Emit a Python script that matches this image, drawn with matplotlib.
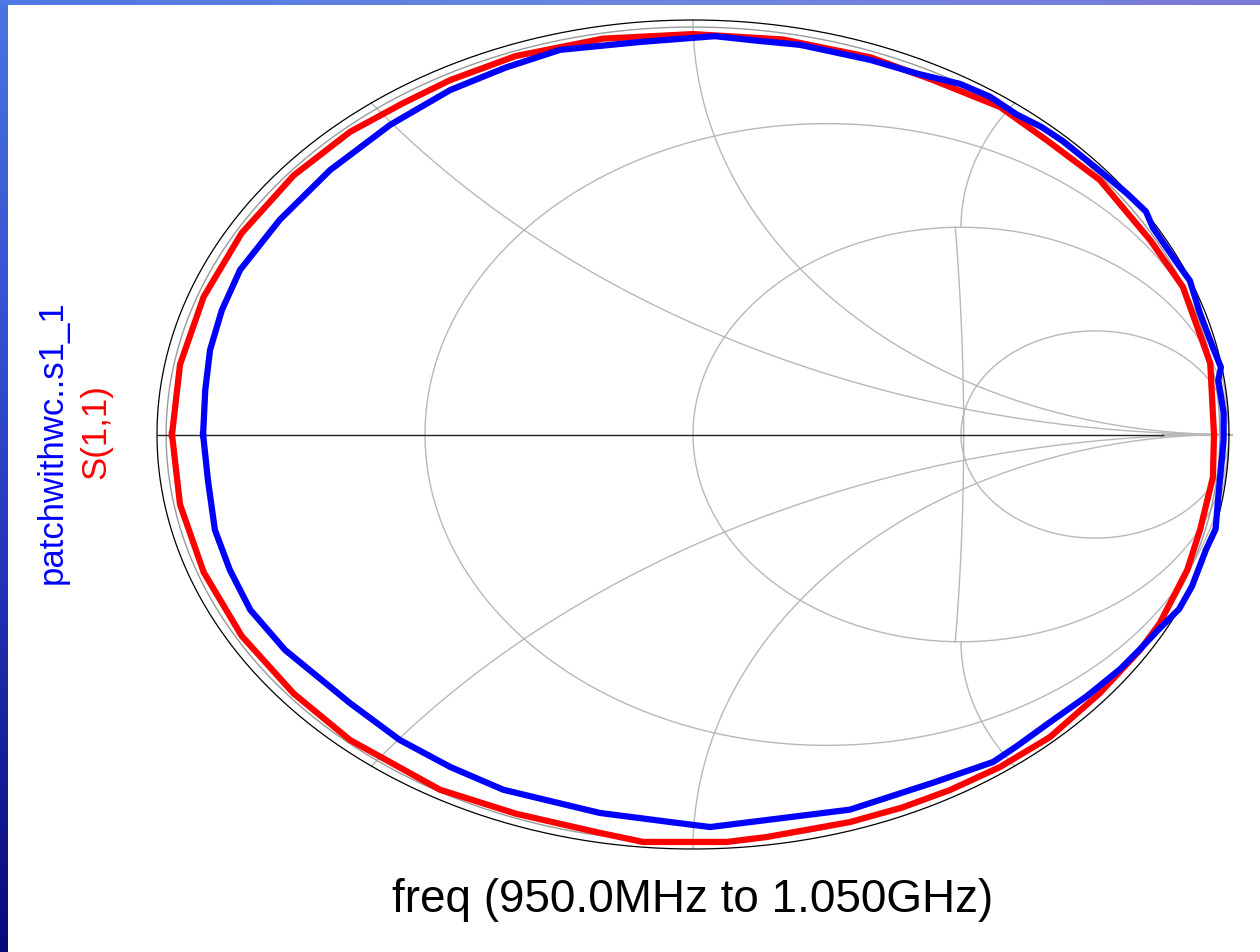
import numpy as np
import matplotlib
matplotlib.use("Agg")
import matplotlib.pyplot as plt

# S(1,1) simulated (red), reflection coefficient
red_re = [-0.972, -0.957, -0.913, -0.842, -0.745, -0.640, -0.540, -0.453, -0.331,
          -0.168, 0.000, 0.168, 0.331, 0.448, 0.573, 0.660, 0.759, 0.853, 0.914,
          0.965, 0.972, 0.970, 0.946, 0.922, 0.871, 0.834, 0.759, 0.666, 0.573,
          0.479, 0.390, 0.293, 0.138, 0.063, -0.093, -0.174, -0.330, -0.472,
          -0.640, -0.745, -0.842, -0.913, -0.957, -0.972]
red_im = [0.000, 0.169, 0.332, 0.486, 0.625, 0.730, 0.800, 0.855, 0.913,
          0.955, 0.966, 0.953, 0.910, 0.855, 0.790, 0.710, 0.614, 0.469, 0.356,
          0.172, 0.000, -0.103, -0.230, -0.327, -0.455, -0.520, -0.624, -0.730, -0.802,
          -0.858, -0.900, -0.935, -0.971, -0.983, -0.983, -0.961, -0.915, -0.857,
          -0.737, -0.625, -0.486, -0.332, -0.169, 0.000]

# patchwithwc..s1_1 measured (blue)
blue_re = [-0.914, -0.910, -0.901, -0.879, -0.845, -0.771, -0.677, -0.565, -0.453,
           -0.350, -0.248, -0.099, 0.041, 0.120, 0.200, 0.330, 0.420, 0.498, 0.554,
           0.604, 0.650, 0.690, 0.759, 0.810, 0.845, 0.858, 0.903, 0.927, 0.946,
           0.970, 0.985, 0.980, 0.990, 0.990, 0.986, 0.980, 0.975, 0.957, 0.931,
           0.907, 0.869, 0.834, 0.797, 0.735, 0.666, 0.604, 0.560, 0.448, 0.293,
           0.138, 0.032, -0.030, -0.174, -0.354, -0.453, -0.547, -0.640, -0.761,
           -0.826, -0.864, -0.892, -0.905, -0.914]
blue_im = [0.000, 0.107, 0.204, 0.300, 0.397, 0.518, 0.638, 0.747, 0.831,
           0.885, 0.928, 0.947, 0.961, 0.950, 0.940, 0.904, 0.870, 0.846, 0.815,
           0.772, 0.742, 0.708, 0.636, 0.581, 0.538, 0.499, 0.414, 0.371, 0.292,
           0.210, 0.162, 0.131, 0.052, -0.013, -0.069, -0.151, -0.228, -0.278, -0.366,
           -0.421, -0.470, -0.518, -0.566, -0.631, -0.694, -0.752, -0.790, -0.840, -0.905,
           -0.930, -0.947, -0.937, -0.913, -0.857, -0.802, -0.737, -0.648, -0.520,
           -0.423, -0.327, -0.230, -0.110, 0.000]

r_circles = [1 / 3, 1, 3]
x_arcs_full = [0.5, -0.5, 1, -1]
x_arcs_short = [2, -2]

grid_col = "#b8b8b8"

fig = plt.figure(figsize=(12.6, 9.52), dpi=100, facecolor="white")

# slide background strips
grad = np.linspace(0, 1, 256).reshape(-1, 1)
left = fig.add_axes([0, 0, 8 / 1260, 1])
left.imshow(grad, aspect="auto", cmap=matplotlib.colors.LinearSegmentedColormap.from_list(
    "l", ["#4a74e2", "#2a3fc8", "#08087a"]))
left.axis("off")
top = fig.add_axes([0, 1 - 5 / 952, 1, 5 / 952])
top.imshow(grad.T, aspect="auto", cmap=matplotlib.colors.LinearSegmentedColormap.from_list(
    "t", ["#4d78e2", "#6b86e0", "#7c7ad8"]))
top.axis("off")

ax = fig.add_axes([157 / 1260, (952 - 849) / 952, 1072 / 1260, 829 / 952])
ax.set_xlim(-1, 1)
ax.set_ylim(-1, 1)
ax.axis("off")

t = np.linspace(0, 2 * np.pi, 721)

# constant resistance circles
for r in r_circles:
    c, rad = r / (1 + r), 1 / (1 + r)
    ax.plot(c + rad * np.cos(t), rad * np.sin(t), color=grid_col, lw=1.0, zorder=1)

# constant reactance arcs
rr = np.concatenate([np.linspace(0, 1, 200), np.geomspace(1, 2000, 300)])
for x in x_arcs_full:
    g = (rr + 1j * x - 1) / (rr + 1j * x + 1)
    ax.plot(g.real, g.imag, color=grid_col, lw=1.0, zorder=1)
for x in x_arcs_short:
    rs = np.linspace(0, 1, 200)
    g = (rs + 1j * x - 1) / (rs + 1j * x + 1)
    ax.plot(g.real, g.imag, color=grid_col, lw=1.0, zorder=1)

# joining arc between the x=+-2 arcs
vv = np.linspace(-0.5, 0.5, 100)
ax.plot(-7.5 + np.sqrt(8.005 ** 2 - vv ** 2), vv, color=grid_col, lw=1.0, zorder=1)

# outer boundary and real axis
ax.plot(0.983 * np.cos(t), 0.983 * np.sin(t), color="#9a9a9a", lw=1.0, zorder=1, clip_on=False)
ax.plot(np.cos(t), np.sin(t), color="black", lw=0.9, zorder=2, clip_on=False)
ax.plot([-1, 0.877], [0, 0], color="#222222", lw=1.0, zorder=2)
ax.plot([0.877, 1.005], [0, 0], color=grid_col, lw=1.6, zorder=1, clip_on=False)

ax.plot(red_re, red_im, color="#ff0000", lw=4.5, zorder=3, clip_on=False,
        solid_joinstyle="round")
ax.plot(blue_re, blue_im, color="#0000ff", lw=4.5, zorder=4, clip_on=False,
        solid_joinstyle="round")

font = "Liberation Sans"
fig.text(693 / 1260, (952 - 900) / 952, "freq (950.0MHz to 1.050GHz)",
         ha="center", va="center", fontsize=33, family=font, color="black")
fig.text(52 / 1260, (952 - 442) / 952, "patchwithwc..s1_1", rotation=90,
         ha="center", va="center", fontsize=25, family=font, color="#0000ff")
fig.text(96 / 1260, (952 - 432) / 952, "S(1,1)", rotation=90,
         ha="center", va="center", fontsize=25, family=font, color="#ff0000")

fig.savefig("out.png", dpi=100, facecolor="white")
